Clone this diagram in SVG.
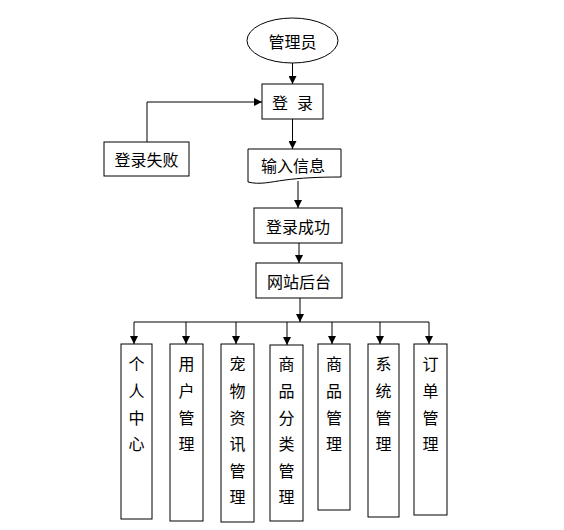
<svg xmlns="http://www.w3.org/2000/svg" width="564" height="530" viewBox="0 0 564 530">
<defs>
<marker id="ah" markerWidth="8" markerHeight="8" refX="8" refY="4" orient="auto" markerUnits="userSpaceOnUse">
<path d="M0,0 L8,4 L0,8 Z" fill="#000"/>
</marker>
<style>
.s{fill:#fff;stroke:#000;stroke-width:1}
.t{font-family:"Noto Sans CJK SC","Noto Sans",sans-serif;font-size:16px;fill:#000;text-anchor:middle;dominant-baseline:central}
.c{fill:none;stroke:#000;stroke-width:1}
</style>
</defs>
<rect width="564" height="530" fill="#fff"/>
<g id="connectors">
<path class="c" d="M292.5,63 V84" marker-end="url(#ah)"/>
<path class="c" d="M292.5,119 V149" marker-end="url(#ah)"/>
<path class="c" d="M147,142 V102 H262" marker-end="url(#ah)"/>
<path class="c" d="M298,181 V208" marker-end="url(#ah)"/>
<path class="c" d="M299,243 V263" marker-end="url(#ah)"/>
<path class="c" d="M300,298 V322" marker-end="url(#ah)"/>
<path class="c" d="M134,322 H429"/>
<path class="c" d="M134,322 V344" marker-end="url(#ah)"/>
<path class="c" d="M186,322 V344" marker-end="url(#ah)"/>
<path class="c" d="M236,322 V344" marker-end="url(#ah)"/>
<path class="c" d="M287,322 V345" marker-end="url(#ah)"/>
<path class="c" d="M332,322 V344" marker-end="url(#ah)"/>
<path class="c" d="M380,322 V344" marker-end="url(#ah)"/>
<path class="c" d="M429,322 V344" marker-end="url(#ah)"/>
</g>
<g id="n_admin">
<ellipse class="s" cx="292.5" cy="40.5" rx="45.5" ry="22.5"/>
<text class="t" x="292.5" y="40.5">管理员</text>
</g>
<g id="n_login">
<rect class="s" x="262" y="84" width="61" height="35"/>
<text class="t" y="101.5"><tspan x="280">登</tspan><tspan x="305">录</tspan></text>
</g>
<g id="n_fail">
<rect class="s" x="104" y="142" width="85" height="34"/>
<text class="t" x="146.5" y="159">登录失败</text>
</g>
<g id="n_input">
<path class="s" d="M248,149 H341 V177 C318,177 300,178 285,180 C270,182 260,185 248,182 Z"/>
<text class="t" x="293" y="165">输入信息</text>
</g>
<g id="n_success">
<rect class="s" x="254" y="208" width="88" height="35"/>
<text class="t" x="298" y="225.5">登录成功</text>
</g>
<g id="n_backend">
<rect class="s" x="256" y="263" width="86" height="35"/>
<text class="t" x="299" y="280.5">网站后台</text>
</g>
<g id="n_personal">
<rect class="s" x="121" y="344" width="31" height="175"/>
<text class="t" x="136.5" y="363">个</text><text class="t" x="136.5" y="390">人</text><text class="t" x="136.5" y="417">中</text><text class="t" x="136.5" y="443">心</text>
</g>
<g id="n_user">
<rect class="s" x="170" y="344" width="33" height="177"/>
<text class="t" x="186.5" y="363">用</text><text class="t" x="186.5" y="390">户</text><text class="t" x="186.5" y="417">管</text><text class="t" x="186.5" y="443">理</text>
</g>
<g id="n_pet">
<rect class="s" x="221" y="344" width="33" height="178"/>
<text class="t" x="237.5" y="363">宠</text><text class="t" x="237.5" y="390">物</text><text class="t" x="237.5" y="417">资</text><text class="t" x="237.5" y="443">讯</text><text class="t" x="237.5" y="470">管</text><text class="t" x="237.5" y="496">理</text>
</g>
<g id="n_category">
<rect class="s" x="270" y="345" width="33" height="176"/>
<text class="t" x="286.5" y="363">商</text><text class="t" x="286.5" y="390">品</text><text class="t" x="286.5" y="417">分</text><text class="t" x="286.5" y="443">类</text><text class="t" x="286.5" y="470">管</text><text class="t" x="286.5" y="496">理</text>
</g>
<g id="n_goods">
<rect class="s" x="318" y="344" width="32" height="166"/>
<text class="t" x="334" y="363">商</text><text class="t" x="334" y="390">品</text><text class="t" x="334" y="417">管</text><text class="t" x="334" y="443">理</text>
</g>
<g id="n_system">
<rect class="s" x="368" y="344" width="31" height="173"/>
<text class="t" x="383.5" y="363">系</text><text class="t" x="383.5" y="390">统</text><text class="t" x="383.5" y="417">管</text><text class="t" x="383.5" y="443">理</text>
</g>
<g id="n_order">
<rect class="s" x="414" y="344" width="33" height="171"/>
<text class="t" x="430.5" y="363">订</text><text class="t" x="430.5" y="390">单</text><text class="t" x="430.5" y="417">管</text><text class="t" x="430.5" y="443">理</text>
</g>
</svg>
